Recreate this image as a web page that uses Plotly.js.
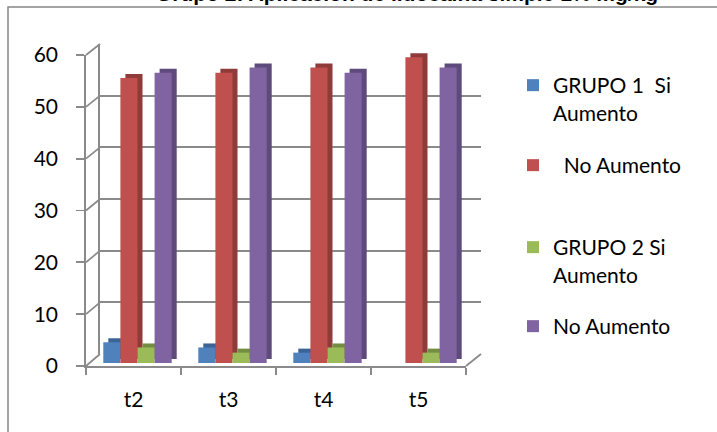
<!DOCTYPE html>
<html>
<head>
<meta charset="utf-8">
<script src="https://cdn.plot.ly/plotly-3.0.1.min.js"></script>
<style>html,body{margin:0;padding:0;background:#fff;}#chart{width:717px;height:432px;}</style>
</head>
<body>
<div id="chart"></div>
<script>
const categories = ['t2', 't3', 't4', 't5'];
const grupo1Si = [4, 3, 2, 0];
const grupo1No = [55, 56, 57, 59];
const grupo2Si = [3, 2, 3, 2];
const grupo2No = [56, 57, 56, 57];
const seriesNames = ['GRUPO 1\u00a0 Si<br>Aumento', '\u00a0 No Aumento', 'GRUPO 2 Si<br>Aumento', 'No Aumento'];
const yTicks = [0, 10, 20, 30, 40, 50, 60];
const titleText = 'Grupo 2: Aplicación de lidocaína simple 1% mg/kg';

const W = 717, H = 432;
const fx = px => px / W;
const fy = py => 1 - py / H;

const frontColors = ['#4F81BD', '#C0504D', '#9BBB59', '#8064A2'];
const sideColors = ['#3B6395', '#8F3B39', '#748E41', '#5E4A7B'];
const seriesData = [grupo1Si, grupo1No, grupo2Si, grupo2No];

const gridColor = '#8a8a8a';
const font = {family: 'Lato, "Open Sans", sans-serif', size: 21, color: '#000'};

const traces = [];
traces.push({type: 'scatter', x: [0], y: [0], xaxis: 'x', yaxis: 'y', mode: 'markers',
  marker: {opacity: 0}, showlegend: false, hoverinfo: 'skip'});
seriesData.forEach((d, i) => {
  traces.push({type: 'bar', x: categories, y: d, xaxis: 'x2', yaxis: 'y2',
    marker: {color: sideColors[i], line: {width: 0}}, showlegend: false, hoverinfo: 'skip'});
});
seriesData.forEach((d, i) => {
  traces.push({type: 'bar', x: categories, y: d, xaxis: 'x3', yaxis: 'y3', name: seriesNames[i],
    marker: {color: frontColors[i], line: {width: 0}},
    legend: i === 0 ? 'legend' : 'legend' + (i + 1)});
});
traces.push({type: 'scatter', x: categories, y: categories.map(() => null), xaxis: 'x4', yaxis: 'y4',
  mode: 'markers', showlegend: false, hoverinfo: 'skip'});

const front = {x0: 86, x1: 466, y0: 366, y60: 55};
const back = {x0: 100, x1: 481, y0: 354, y60: 44};
const yFront = v => front.y0 + (front.y60 - front.y0) * v / 60;
const yBack = v => back.y0 + (back.y60 - back.y0) * v / 60;

const shapes = [];
yTicks.forEach(v => {
  shapes.push({type: 'line', xref: 'paper', yref: 'paper',
    x0: fx(front.x0), y0: fy(yFront(v)), x1: fx(back.x0), y1: fy(yBack(v)),
    line: {color: gridColor, width: 1.75}, layer: 'below'});
});
shapes.push({type: 'line', xref: 'paper', yref: 'paper',
  x0: fx(front.x1), y0: fy(yFront(0)), x1: fx(back.x1), y1: fy(yBack(0)),
  line: {color: gridColor, width: 1.75}, layer: 'below'});
shapes.push({type: 'rect', xref: 'paper', yref: 'paper',
  x0: fx(8), y0: fy(440), x1: fx(730), y1: fy(7),
  line: {color: '#878787', width: 1.5}, fillcolor: 'rgba(0,0,0,0)', layer: 'below'});

const hidden = {showgrid: false, zeroline: false, showline: false, showticklabels: false, ticks: ''};

const legendBase = {x: fx(513), xanchor: 'left', yanchor: 'top', bgcolor: 'rgba(0,0,0,0)',
  font: font, valign: 'top', itemclick: false};

const layout = {
  width: W, height: H,
  margin: {l: 0, r: 0, t: 0, b: 0},
  paper_bgcolor: '#fff', plot_bgcolor: 'rgba(0,0,0,0)',
  barmode: 'group', bargap: 0.28, bargroupgap: 0,
  xaxis: Object.assign({}, hidden, {domain: [fx(back.x0), fx(back.x1)], range: [0, 1], anchor: 'y'}),
  yaxis: {domain: [fy(back.y0), fy(back.y60)], range: [0, 60], dtick: 10, tick0: 0,
    showgrid: true, gridcolor: gridColor, gridwidth: 1.75, zeroline: false,
    showline: true, linecolor: gridColor, linewidth: 1.75, showticklabels: false, ticks: '', anchor: 'x'},
  xaxis2: Object.assign({}, hidden, {domain: [fx(95), fx(475)], anchor: 'y2', type: 'category'}),
  yaxis2: Object.assign({}, hidden, {domain: [fy(359), fy(48)], range: [0, 60], anchor: 'x2'}),
  xaxis3: Object.assign({}, hidden, {domain: [fx(90), fx(470)], anchor: 'y3', type: 'category'}),
  yaxis3: Object.assign({}, hidden, {domain: [fy(363), fy(52)], range: [0, 60], anchor: 'x3'}),
  xaxis4: {domain: [fx(front.x0), fx(front.x1)], anchor: 'y4', type: 'category', range: [-0.5, 3.5],
    showgrid: false, zeroline: false, showline: true, linecolor: gridColor, linewidth: 1.75,
    ticks: 'outside', ticklen: 7, tickcolor: gridColor, tickwidth: 1.75, tickson: 'boundaries',
    tickfont: font, ticklabelstandoff: 14},
  yaxis4: {domain: [fy(front.y0), fy(front.y60)], anchor: 'x4', range: [0, 60], tickvals: yTicks,
    showgrid: false, zeroline: false, showline: true, linecolor: gridColor, linewidth: 1.75,
    ticks: 'outside', ticklen: 8, tickcolor: gridColor, tickwidth: 1.75,
    tickfont: font, ticklabelstandoff: 14},
  legend: Object.assign({}, legendBase, {y: fy(65)}),
  legend2: Object.assign({}, legendBase, {y: fy(145)}),
  legend3: Object.assign({}, legendBase, {y: fy(227)}),
  legend4: Object.assign({}, legendBase, {y: fy(306)}),
  shapes: shapes,
  annotations: [{text: '<b>' + titleText + '</b>', xref: 'paper', yref: 'paper',
    x: fx(407), y: fy(7), xanchor: 'center', yanchor: 'bottom', showarrow: false,
    font: {family: 'Liberation Sans, Arial, sans-serif', size: 21, color: '#000'}}]
};

Plotly.newPlot('chart', traces, layout, {displayModeBar: false, staticPlot: true});
</script>
</body>
</html>
